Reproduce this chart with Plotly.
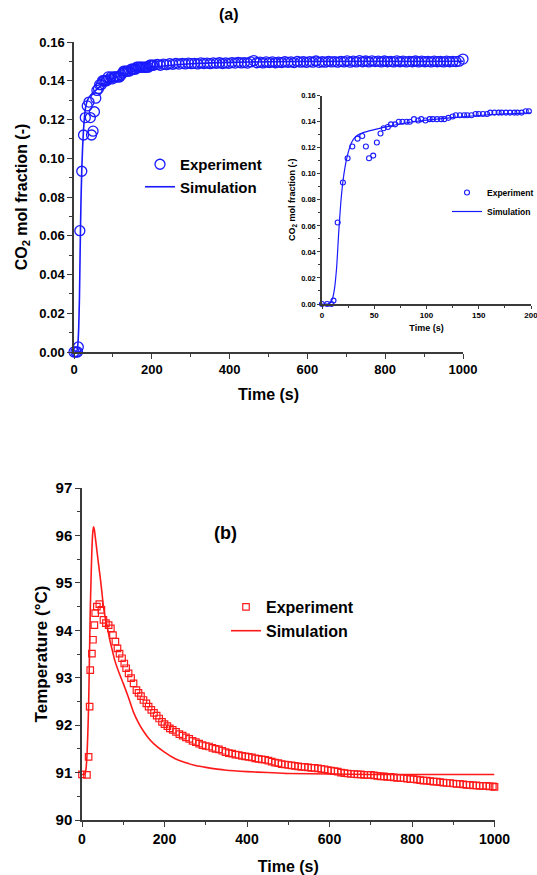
import plotly.graph_objects as go

# ---------------- (a) CO2 mol fraction ----------------
exp_a_t = [0, 5, 9, 11, 15, 20, 24.5, 29, 34, 38.5, 42, 45, 49, 52.5, 56, 59, 63, 66, 70, 73.5,
           77, 81, 84, 88, 92, 95, 99, 103, 106, 110, 114, 117, 121, 125, 128, 132, 136, 139, 143, 147,
           150, 154, 158, 161, 165, 169, 172, 176, 180, 184, 187, 191, 195, 198, 202,
           206, 214, 222, 230, 238, 246, 254, 262, 270, 278, 286, 294, 302, 310, 318, 326, 334, 342, 350,
           358, 366, 374, 382, 390, 398, 406, 414, 422, 430, 438, 446, 454, 462, 470, 478, 486, 494, 502,
           510, 518, 526, 534, 542, 550, 558, 566, 574, 582, 590, 598, 606, 614, 622, 630, 638, 646, 654,
           662, 670, 678, 686, 694, 702, 710, 718, 726, 734, 742, 750, 758, 766, 774, 782, 790, 798, 806,
           814, 822, 830, 838, 846, 854, 862, 870, 878, 886, 894, 902, 910, 918, 926, 934, 942, 950, 958,
           966, 974, 982, 990, 1000]
exp_a_y = [0.0, 0.0, 0.0, 0.0026, 0.0626, 0.0933, 0.112, 0.121, 0.127, 0.129, 0.121, 0.112, 0.114, 0.124,
           0.131, 0.135, 0.136, 0.138, 0.138, 0.140, 0.140, 0.140, 0.140, 0.142, 0.141, 0.142, 0.141, 0.142,
           0.142, 0.142, 0.142, 0.142, 0.143, 0.144, 0.145, 0.145, 0.145, 0.145, 0.145, 0.146, 0.146, 0.146,
           0.146, 0.147, 0.147, 0.147, 0.147, 0.147, 0.147, 0.147, 0.147, 0.147, 0.148, 0.148, 0.148,
           0.1481, 0.1484, 0.1480, 0.1486, 0.1483, 0.1488, 0.1485, 0.1489, 0.1486, 0.1490, 0.1487, 0.1491,
           0.1488, 0.1490, 0.1487, 0.1492, 0.1489, 0.1491, 0.1488, 0.1492, 0.1490, 0.1493, 0.1489, 0.1492,
           0.1490, 0.1494, 0.1491, 0.1495, 0.1492, 0.1494, 0.1491, 0.1497, 0.1504, 0.1493, 0.1496, 0.1492,
           0.1497, 0.1494, 0.1497, 0.1493, 0.1496, 0.1494, 0.1498, 0.1495, 0.1497, 0.1494, 0.1500, 0.1496,
           0.1498, 0.1495, 0.1499, 0.1496, 0.1502, 0.1495, 0.1498, 0.1496, 0.1500, 0.1497, 0.1499, 0.1496,
           0.1500, 0.1497, 0.1503, 0.1496, 0.1501, 0.1497, 0.1504, 0.1498, 0.1502, 0.1497, 0.1503, 0.1499,
           0.1501, 0.1497, 0.1502, 0.1498, 0.1500, 0.1497, 0.1503, 0.1498, 0.1501, 0.1497, 0.1500, 0.1498,
           0.1502, 0.1497, 0.1501, 0.1498, 0.1500, 0.1497, 0.1501, 0.1498, 0.1500, 0.1497, 0.1501, 0.1498,
           0.1500, 0.1499, 0.1501, 0.1512]

sim_a_t = [0, 5, 8, 10, 12, 14, 16, 18, 20, 22, 24, 26, 28, 30, 33, 36, 40, 45, 50, 60, 70, 80, 90,
           100, 125, 150, 175, 200, 250, 300, 400, 500, 600, 700, 800, 900, 1000]
sim_a_y = [0.0, 0.0, 0.001, 0.004, 0.012, 0.028, 0.055, 0.078, 0.094, 0.105, 0.113, 0.119, 0.1235,
           0.1265, 0.129, 0.1305, 0.1318, 0.1330, 0.1340, 0.1358, 0.1375, 0.1390, 0.1402, 0.1412, 0.1432,
           0.1448, 0.1460, 0.1468, 0.1480, 0.1488, 0.1495, 0.1498, 0.1500, 0.1500, 0.1500, 0.1500, 0.1501]

# ---------------- (b) Temperature ----------------
exp_b_t = [0, 12, 16, 18.5, 20, 24, 26.6, 30, 32, 36, 42, 47, 52, 58, 64.6, 70, 75, 81, 86, 91, 97,
           102.5, 107, 113, 119, 125, 132, 137, 143, 149, 156, 161.5, 168, 174.5, 181, 187, 194, 200,
           207, 213, 220,
           228, 236, 244, 252, 260, 268, 276, 284, 292, 300, 308, 316, 324, 332, 340, 348, 356, 364, 372,
           380, 388, 396, 404, 412, 420, 428, 436, 444, 452, 460, 468, 476, 484, 492, 500, 508, 516, 524,
           532, 540, 548, 556, 564, 572, 580, 588, 596, 604, 612, 620, 628, 636, 644, 652, 660, 668, 676,
           684, 692, 700, 708, 716, 724, 732, 740, 748, 756, 764, 772, 780, 788, 796, 804, 812, 820, 828,
           836, 844, 852, 860, 868, 876, 884, 892, 900, 908, 916, 924, 932, 940, 948, 956, 964, 972, 980,
           988, 996, 1000]
exp_b_y = [90.96, 90.95, 91.33, 92.39, 93.16, 93.51, 93.80, 94.11, 94.36, 94.50, 94.55, 94.43, 94.22,
           94.15, 94.11, 94.04, 93.90, 93.76, 93.62, 93.51, 93.41, 93.30, 93.20, 93.09, 92.99, 92.88,
           92.74, 92.68, 92.61, 92.53, 92.46, 92.39, 92.32, 92.26, 92.20, 92.14, 92.07, 92.02, 91.98,
           91.93, 91.90,
           91.86, 91.81, 91.78, 91.74, 91.71, 91.67, 91.64, 91.61, 91.58, 91.56, 91.55, 91.52, 91.50,
           91.49, 91.46, 91.43, 91.41, 91.40, 91.38, 91.37, 91.35, 91.34, 91.33, 91.32, 91.30, 91.29,
           91.28, 91.27, 91.25, 91.23, 91.21, 91.20, 91.18, 91.17, 91.16, 91.15, 91.14, 91.13, 91.12,
           91.12, 91.11, 91.10, 91.10, 91.09, 91.08, 91.07, 91.05, 91.04, 91.03, 91.02, 91.00, 90.99,
           90.98, 90.97, 90.97, 90.96, 90.96, 90.95, 90.95, 90.95, 90.94, 90.93, 90.92, 90.92, 90.91,
           90.91, 90.90, 90.89, 90.89, 90.88, 90.87, 90.86, 90.86, 90.85, 90.84, 90.83, 90.83, 90.82,
           90.81, 90.81, 90.80, 90.79, 90.78, 90.78, 90.77, 90.76, 90.76, 90.75, 90.74, 90.74, 90.73,
           90.73, 90.72, 90.72, 90.72, 90.71, 90.71, 90.70]

sim_b_t = [0, 5, 8, 10, 12, 14, 16, 18, 20, 22, 24, 26, 28, 30, 32, 36, 40, 44, 48, 52, 56, 60, 64, 68,
           72, 80, 90, 100, 112, 125, 137, 150, 162, 175, 200, 226, 250, 275, 300, 350, 400, 450, 500,
           600, 700, 800, 900, 1000]
sim_b_y = [90.96, 90.96, 90.99, 91.10, 91.35, 91.80, 92.40, 93.40, 94.40, 95.10, 95.70, 96.05, 96.18,
           96.12, 95.98, 95.69, 95.40, 95.13, 94.82, 94.50, 94.28, 94.10, 93.95, 93.77, 93.63, 93.35,
           93.10, 92.88, 92.60, 92.27, 92.05, 91.86, 91.72, 91.60, 91.43, 91.29, 91.21, 91.15, 91.11,
           91.05, 91.02, 91.00, 90.98, 90.97, 90.96, 90.96, 90.96, 90.96]

INSET_MAX_T = 202
ins_t = [t for t in exp_a_t if t <= INSET_MAX_T]
ins_y = exp_a_y[:len(ins_t)]
ins_sim_t = [t for t in sim_a_t if t <= 200]
ins_sim_y = sim_a_y[:len(ins_sim_t)]

W, H = 537, 875
BLUE = "#1a1aff"
RED = "#ff1a1a"
AX = "#3a3a3a"
FONT = "Liberation Sans"


def px_x(a, b):
    return [a / W, b / W]


def px_y(top, bottom):
    return [1 - bottom / H, 1 - top / H]


fig = go.Figure()

# main (a)
fig.add_trace(go.Scatter(x=exp_a_t, y=exp_a_y, mode="markers", name="Experiment",
                         marker=dict(symbol="circle-open", size=10, color=BLUE, line=dict(width=1.3)),
                         xaxis="x", yaxis="y", cliponaxis=False, legend="legend"))
fig.add_trace(go.Scatter(x=sim_a_t, y=sim_a_y, mode="lines", name="Simulation",
                         line=dict(color=BLUE, width=1.6, shape="spline", smoothing=0.6),
                         xaxis="x", yaxis="y", cliponaxis=False, legend="legend"))
# inset
fig.add_trace(go.Scatter(x=ins_t, y=ins_y, mode="markers", name="Experiment",
                         marker=dict(symbol="circle-open", size=5, color=BLUE, line=dict(width=1.1)),
                         xaxis="x2", yaxis="y2", cliponaxis=False, legend="legend3"))
fig.add_trace(go.Scatter(x=ins_sim_t, y=ins_sim_y, mode="lines", name="Simulation",
                         line=dict(color=BLUE, width=1.2, shape="spline", smoothing=0.6),
                         xaxis="x2", yaxis="y2", cliponaxis=False, legend="legend3"))
# (b)
fig.add_trace(go.Scatter(x=exp_b_t, y=exp_b_y, mode="markers", name="Experiment",
                         marker=dict(symbol="square-open", size=6.5, color=RED, line=dict(width=1.2)),
                         xaxis="x3", yaxis="y3", cliponaxis=False, legend="legend2"))
fig.add_trace(go.Scatter(x=sim_b_t, y=sim_b_y, mode="lines", name="Simulation",
                         line=dict(color=RED, width=1.6, shape="spline", smoothing=0.6),
                         xaxis="x3", yaxis="y3", cliponaxis=False, legend="legend2"))

bold = dict(family=FONT, color="black", weight="bold")


def axis_style(size, ticklen=5):
    return dict(showline=True, linecolor=AX, linewidth=1.5, ticks="outside", tickcolor=AX,
                ticklen=ticklen, tickwidth=1.3, showgrid=False, zeroline=False, automargin=False,
                ticklabeloverflow="allow", tickfont=dict(size=size, **bold))


fig.update_layout(
    width=W, height=H, margin=dict(l=0, r=0, t=0, b=0, autoexpand=False),
    paper_bgcolor="white", plot_bgcolor="white", showlegend=True,
    xaxis=dict(domain=px_x(74, 463), range=[0, 1000], dtick=200, anchor="y",
               minor=dict(dtick=100, ticks="outside", ticklen=3, tickcolor=AX),
               title=dict(text="Time (s)", font=dict(size=16, **bold), standoff=12),
               **axis_style(13)),
    yaxis=dict(domain=px_y(42, 352), range=[0, 0.16], dtick=0.02, tickformat=".2f", anchor="x",
               minor=dict(dtick=0.01, ticks="outside", ticklen=3, tickcolor=AX),
               title=dict(text="CO<sub>2</sub> mol fraction (-)", font=dict(size=16, **bold), standoff=8),
               **axis_style(13)),
    xaxis2=dict(domain=px_x(322, 531), range=[0, 200], dtick=50, anchor="y2",
                minor=dict(dtick=25, ticks="outside", ticklen=2, tickcolor=AX),
                title=dict(text="Time (s)", font=dict(size=9, **bold), standoff=5),
                **axis_style(8, ticklen=3)),
    yaxis2=dict(domain=px_y(95.7, 304), range=[0, 0.16], dtick=0.02, tickformat=".2f", anchor="x2",
                minor=dict(dtick=0.01, ticks="outside", ticklen=2, tickcolor=AX),
                title=dict(text="CO<sub>2</sub> mol fraction (-)", font=dict(size=9, **bold), standoff=4),
                **axis_style(7.5, ticklen=3)),
    xaxis3=dict(domain=px_x(82, 494.5), range=[0, 1000], dtick=200, anchor="y3",
                minor=dict(dtick=100, ticks="outside", ticklen=3, tickcolor=AX),
                title=dict(text="Time (s)", font=dict(size=16, **bold), standoff=15),
                **axis_style(14)),
    yaxis3=dict(domain=px_y(488, 820), range=[90, 97], dtick=1, anchor="x3",
                minor=dict(dtick=0.5, ticks="outside", ticklen=3, tickcolor=AX),
                title=dict(text="Temperature (°C)", font=dict(size=17, **bold), standoff=4),
                **axis_style(15)),
    legend=dict(x=140 / W, y=1 - 148 / H, xanchor="left", yanchor="top",
                font=dict(size=15, **bold), bgcolor="rgba(0,0,0,0)", itemwidth=30,
                tracegroupgap=0),
    legend2=dict(x=226 / W, y=1 - 590 / H, xanchor="left", yanchor="top",
                 font=dict(size=16, **bold), bgcolor="rgba(0,0,0,0)", itemwidth=30,
                 tracegroupgap=0),
    legend3=dict(x=447 / W, y=1 - 178 / H, xanchor="left", yanchor="top",
                 font=dict(size=8.5, **bold), bgcolor="rgba(0,0,0,0)", itemwidth=30,
                 tracegroupgap=0),
    annotations=[
        dict(text="(a)", x=229 / W, y=1 - 15 / H, xref="paper", yref="paper", showarrow=False,
             xanchor="center", yanchor="middle", font=dict(size=16, **bold)),
        dict(text="(b)", x=225 / W, y=1 - 533 / H, xref="paper", yref="paper", showarrow=False,
             xanchor="center", yanchor="middle", font=dict(size=18, **bold)),
    ],
)

fig.write_html("out.html", config={"displayModeBar": False},
               post_script="document.body.style.margin='0';document.body.style.overflow='hidden';")
